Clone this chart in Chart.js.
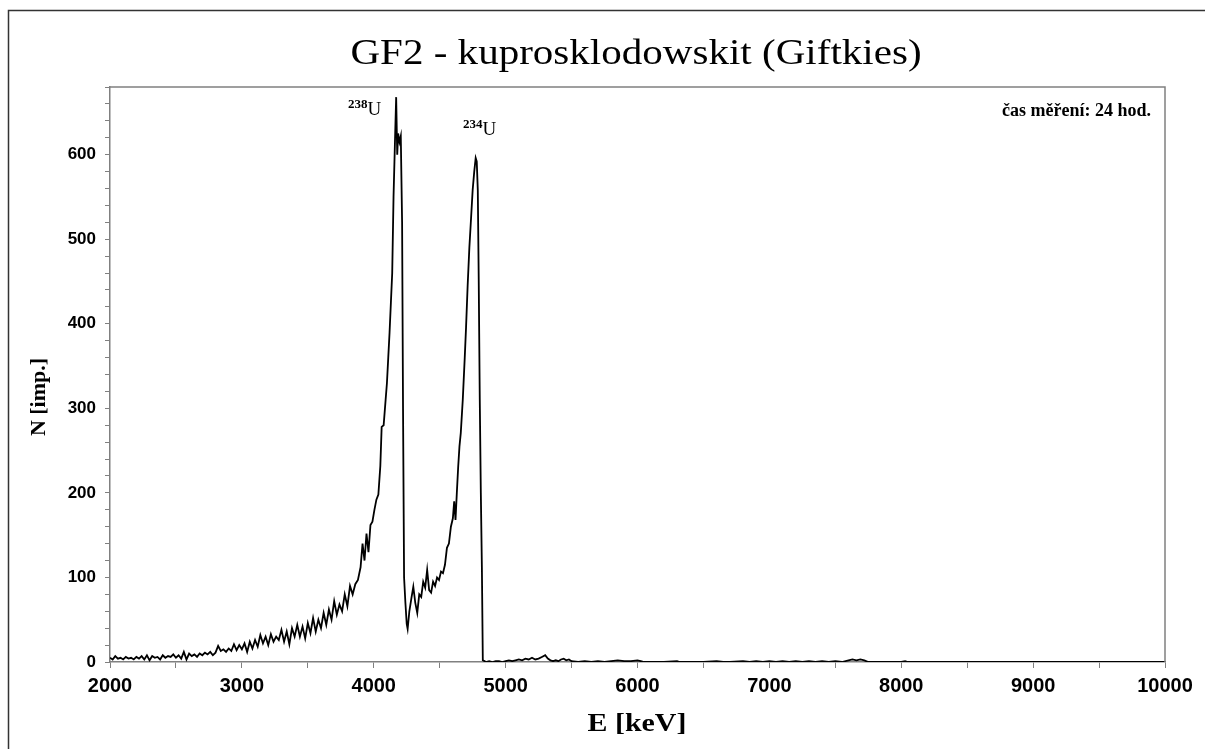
<!DOCTYPE html>
<html>
<head>
<meta charset="utf-8">
<script src="https://cdn.jsdelivr.net/npm/chart.js@4.4.0/dist/chart.umd.min.js"></script>
<style>
  body { margin: 0; background: #fff; }
  #wrap { width: 1205px; height: 749px; }
</style>
</head>
<body>
<div id="wrap"><canvas id="spectrum" width="1205" height="749"></canvas></div>
<script>
// spectrum data (E in keV, N in counts)
const tailEnergy = [2000,2020,2040,2060,2080,2100,2120,2140,2160,2180,2200,2220,2240,2260,2280,2300,2320,2340,2360,2380,
  2400,2420,2440,2460,2480,2500,2520,2540,2560,2580,2600,2620,2640,2660,2680,2700,2720,2740,2760,2780,
  2800,2820,2840,2860,2880,2900,2920,2940,2960,2980,3000,3020,3040,3060,3080,3100,3120,3140,3160,3180,
  3200,3220,3240,3260,3280,3300,3320,3340,3360,3380,3400];
const tailCounts = [5,3,7,4,5,3,6,4,5,3,6,4,7,3,8,2,7,5,6,3,
  8,5,7,6,9,5,8,4,12,3,10,7,9,6,10,8,11,9,12,8,
  11,19,13,15,12,16,13,21,14,20,15,22,12,24,16,26,18,32,22,30,
  20,33,24,30,26,38,24,36,21,40,30];

const peak238Energy = [3420,3440,3460,3480,3500,3520,3540,3560,3580,3600,3620,3640,3660,3680,3700,3720,3740,3760,3780,3800,
  3820,3840,3860,3880,3900,3915,3930,3945,3960,3975,3990,4005,4020,4035,4050,4060,4075,4090,
  4100,4110,4120,4130,4140,4150,4160,4170,4178,4185,4195,4205,4215,4222,4230,4240,4250,4257];
const peak238Counts = [44,30,42,28,46,34,52,36,50,40,58,44,62,50,72,56,68,60,80,66,
  90,80,92,97,112,140,120,152,130,162,166,180,192,198,232,278,280,310,
  330,360,390,425,460,550,610,668,600,625,615,622,520,300,100,70,45,39];

const peak234Energy = [4270,4285,4300,4315,4330,4345,4360,4375,4390,4405,4420,4435,4450,4465,4480,4495,4510,4525,4540,4555,
  4570,4585,4600,4610,4620,4630,4640,4650,4660,4675,4690,4700,4712,4725,4738,4750,4762,4773,4781,4789,
  4796,4804,4812,4820,4827];
const peak234Counts = [60,75,89,70,58,80,77,95,88,109,85,82,95,90,100,97,107,105,115,135,
  140,160,170,190,168,200,230,255,271,310,360,396,445,490,525,558,580,596,592,558,
  452,310,200,112,2];

const bgEnergy = [4840,4850,4875,4900,4925,4950,4975,5000,5025,5050,5075,5100,5125,5150,5175,5200,5225,5250,5275,5300,
  5320,5340,5360,5380,5400,5420,5440,5460,5480,5500,5550,5600,5650,5700,5750,5800,5850,5900,5950,6000,
  6025,6050,6100,6200,6300,6320,6400,6500,6600,6650,6700,6800,6850,6900,6950,7000,7050,7100,7150,7200,
  7250,7300,7350,7400,7450,7500,7550,7600,7630,7660,7690,7720,7750,8000,8030,8050,10000];
const bgCounts = [1,0,1,0,1,1,0,1,2,1,2,3,2,4,3,5,3,4,6,8,
  4,2,1,2,1,3,4,2,3,1,0,1,0,1,0,1,2,1,1,2,
  1,0,0,0,1,0,0,0,1,0,0,1,0,1,0,1,0,1,0,1,
  0,1,0,1,0,1,0,2,3,2,3,2,0,0,1,0,0];

const xTicks = [2000, 3000, 4000, 5000, 6000, 7000, 8000, 9000, 10000];
const yTicks = [0, 100, 200, 300, 400, 500, 600];

const energy = tailEnergy.concat(peak238Energy, peak234Energy, bgEnergy);
const counts = tailCounts.concat(peak238Counts, peak234Counts, bgCounts);
const points = energy.map((e, i) => ({ x: e, y: counts[i] }));

const serif = '"Liberation Serif", "Times New Roman", serif';
const sans = '"Liberation Sans", Arial, sans-serif';
const axisGray = '#808080';

// text drawn a little wider, like the original export
function wideText(ctx, text, x, y, stretch) {
  ctx.save();
  ctx.translate(x, y);
  ctx.scale(stretch, 1);
  ctx.fillText(text, 0, 0);
  ctx.restore();
}

// frame, titles and the peak labels
const decorations = {
  id: 'decorations',
  afterDraw(chart) {
    const ctx = chart.ctx;
    const a = chart.chartArea;
    ctx.save();
    // outer border
    ctx.strokeStyle = '#333';
    ctx.lineWidth = 1.5;
    ctx.beginPath();
    ctx.moveTo(8.5, 749);
    ctx.lineTo(8.5, 10.5);
    ctx.lineTo(1205, 10.5);
    ctx.stroke();
    // plot box top and right
    ctx.strokeStyle = axisGray;
    ctx.lineWidth = 1.5;
    ctx.beginPath();
    ctx.moveTo(a.left, a.top);
    ctx.lineTo(a.right, a.top);
    ctx.lineTo(a.right, a.bottom);
    ctx.stroke();

    ctx.fillStyle = '#000';
    ctx.textAlign = 'center';
    ctx.textBaseline = 'alphabetic';
    ctx.font = '36px ' + serif;
    wideText(ctx, 'GF2 - kuprosklodowskit (Giftkies)', 636, 64, 1.14);

    ctx.font = 'bold 26px ' + serif;
    wideText(ctx, 'E [keV]', 637, 731, 1.15);

    ctx.save();
    ctx.translate(45, 397);
    ctx.rotate(-Math.PI / 2);
    ctx.font = 'bold 22px ' + serif;
    ctx.fillText('N [imp.]', 0, 0);
    ctx.restore();

    ctx.textAlign = 'right';
    ctx.font = 'bold 18px ' + serif;
    ctx.fillText('čas měření: 24 hod.', 1151, 116);

    ctx.textAlign = 'left';
    const iso = [['238', 348, 115], ['234', 463, 135]];
    iso.forEach(([mass, x, y]) => {
      ctx.font = 'bold 13px ' + serif;
      ctx.fillText(mass, x, y - 7);
      const w = ctx.measureText(mass).width;
      ctx.font = '19px ' + serif;
      ctx.fillText('U', x + w, y);
    });
    ctx.restore();
  }
};

new Chart(document.getElementById('spectrum'), {
  type: 'line',
  data: {
    datasets: [{
      data: points,
      borderColor: '#000',
      borderWidth: 1.8,
      pointRadius: 0,
      tension: 0,
      fill: false
    }]
  },
  options: {
    responsive: false,
    animation: false,
    layout: { padding: { top: 87, right: 40, left: 0, bottom: 0 } },
    plugins: { legend: { display: false }, tooltip: { enabled: false } },
    scales: {
      x: {
        type: 'linear',
        min: 2000,
        max: 10000,
        afterFit(s) { s.height = 87; },
        border: { color: axisGray, width: 1.5 },
        grid: { drawOnChartArea: false, tickLength: 6, color: axisGray, lineWidth: 1 },
        ticks: {
          stepSize: 500,
          autoSkip: false,
          maxRotation: 0,
          padding: 6,
          color: '#000',
          font: { family: sans, size: 20, weight: 'bold' },
          callback: v => xTicks.includes(v) ? String(v) : ''
        }
      },
      y: {
        min: 0,
        max: 680,
        afterFit(s) { s.width = 110; },
        border: { color: axisGray, width: 1.5 },
        grid: { drawOnChartArea: false, tickLength: 5, color: axisGray, lineWidth: 1 },
        ticks: {
          stepSize: 20,
          autoSkip: false,
          padding: 9,
          color: '#000',
          font: { family: sans, size: 17, weight: 'bold' },
          callback: v => yTicks.includes(v) ? String(v) : ''
        }
      }
    }
  },
  plugins: [decorations]
});
</script>
</body>
</html>
